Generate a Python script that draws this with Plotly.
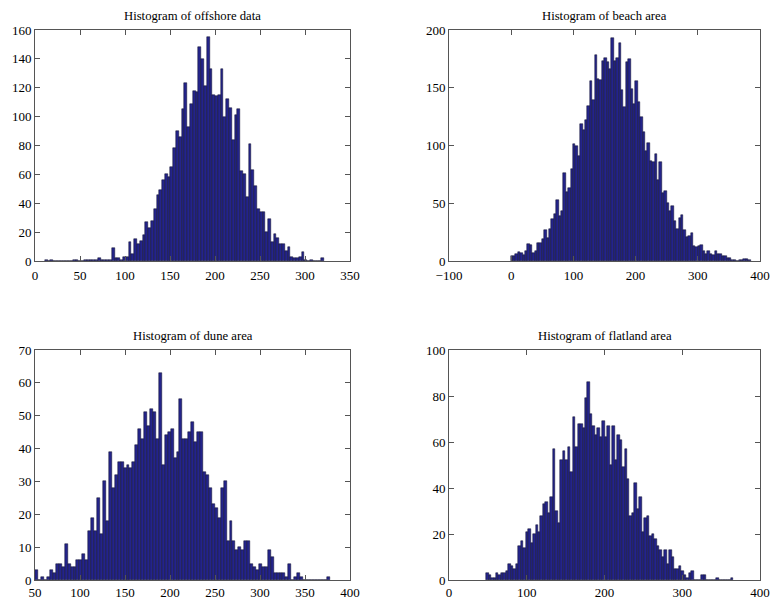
import numpy as np
import plotly.graph_objects as go

# ---- histogram data: 100 equal-width bins per panel ----
offshore_range = (11.0, 321.0)
offshore_counts = [
    1, 0, 1, 0, 0, 0, 0, 0, 0, 0,
    1, 1, 0, 0, 1, 1, 1, 1, 1, 2,
    1, 1, 1, 1, 9, 2, 2, 1, 3, 3,
    13, 5, 15, 12, 14, 18, 27, 23, 28, 36,
    46, 49, 56, 60, 58, 65, 78, 90, 86, 105,
    123, 93, 109, 118, 117, 148, 140, 121, 155, 133,
    115, 114, 115, 133, 100, 112, 106, 84, 101, 105,
    62, 60, 44, 81, 63, 52, 36, 34, 34, 20,
    29, 13, 19, 16, 12, 12, 7, 10, 3, 2,
    2, 3, 6, 1, 0, 1, 0, 0, 0, 2,
]

beach_range = (-1.0, 385.0)
beach_counts = [
    4, 4, 6, 8, 7, 5, 9, 15, 14, 7,
    9, 16, 16, 19, 27, 20, 28, 36, 41, 53,
    39, 43, 76, 60, 63, 80, 101, 100, 91, 119,
    113, 122, 134, 156, 139, 178, 158, 157, 173, 176,
    172, 166, 193, 173, 176, 189, 148, 133, 172, 175,
    149, 136, 156, 138, 125, 112, 95, 102, 87, 86,
    93, 70, 86, 59, 61, 50, 43, 48, 35, 28,
    37, 40, 27, 21, 22, 24, 13, 12, 13, 14,
    9, 6, 9, 6, 5, 9, 6, 6, 4, 4,
    3, 3, 1, 1, 0, 1, 1, 2, 2, 1,
]

dune_range = (50.3, 377.3)
dune_counts = [
    3, 0, 1, 0, 1, 3, 2, 5, 5, 4,
    11, 5, 4, 4, 6, 6, 8, 6, 15, 19,
    15, 25, 14, 30, 18, 39, 28, 32, 36, 36,
    34, 35, 34, 36, 41, 46, 43, 51, 47, 52,
    51, 43, 63, 35, 44, 45, 46, 37, 39, 55,
    43, 43, 45, 48, 42, 45, 45, 33, 32, 28,
    23, 22, 19, 28, 30, 12, 18, 12, 9, 10,
    9, 12, 12, 5, 4, 3, 5, 4, 4, 9,
    7, 2, 2, 2, 2, 1, 5, 0, 1, 2,
    1, 0, 0, 0, 0, 0, 0, 0, 0, 1,
]

flatland_range = (47.7, 365.7)
flatland_counts = [
    3, 2, 1, 1, 3, 2, 3, 3, 4, 7,
    6, 5, 7, 15, 17, 14, 21, 22, 16, 20,
    24, 21, 28, 33, 34, 29, 36, 57, 30, 25,
    52, 56, 52, 58, 47, 71, 58, 68, 68, 66,
    79, 86, 72, 67, 63, 66, 62, 69, 62, 67,
    50, 67, 52, 63, 61, 49, 57, 44, 28, 29,
    42, 31, 36, 21, 27, 28, 19, 20, 18, 15,
    13, 10, 13, 7, 13, 10, 5, 5, 6, 4,
    2, 1, 3, 4, 0, 0, 0, 2, 2, 0,
    0, 0, 0, 1, 0, 0, 0, 0, 0, 1,
]

titles = [
    "Histogram of offshore data",
    "Histogram of beach area",
    "Histogram of dune area",
    "Histogram of flatland area",
]
x_ranges = [(0, 350), (-100, 400), (50, 400), (0, 400)]
x_dticks = [50, 100, 50, 100]
y_ranges = [(0, 160), (0, 200), (0, 70), (0, 100)]
y_dticks = [20, 50, 10, 20]

panels = [
    (offshore_range, offshore_counts),
    (beach_range, beach_counts),
    (dune_range, dune_counts),
    (flatland_range, flatland_counts),
]

W, H = 771, 601
# axes boxes in pixels: (left, right, top, bottom)
boxes = [
    (35, 350, 30, 261),
    (449, 760, 30, 261),
    (35, 350, 350, 580),
    (449, 760, 350, 580),
]

FONT = "Liberation Serif, Times New Roman, serif"
BAR_FILL = "#24248a"
BAR_EDGE = "#0d0d2a"
AX_COLOR = "#555555"

fig = go.Figure()
layout = dict(
    width=W, height=H,
    margin=dict(l=0, r=0, t=0, b=0, autoexpand=False),
    paper_bgcolor="white", plot_bgcolor="white",
    showlegend=False, bargap=0,
    font=dict(family=FONT, size=13, color="black"),
)
annotations = []

for k, ((lo, hi), counts) in enumerate(panels):
    n = len(counts)
    width = (hi - lo) / n
    edges = np.linspace(lo, hi, n + 1)
    centers = (edges[:-1] + edges[1:]) / 2
    sfx = "" if k == 0 else str(k + 1)
    fig.add_trace(go.Bar(
        x=centers, y=counts, width=width,
        marker=dict(color=BAR_FILL, line=dict(color=BAR_EDGE, width=0.5)),
        xaxis="x" + sfx, yaxis="y" + sfx,
        hoverinfo="x+y",
    ))
    l, r, t, b = boxes[k]
    xdom = [l / W, r / W]
    ydom = [1 - b / H, 1 - t / H]
    common = dict(
        showgrid=False, zeroline=False, showline=True, linecolor=AX_COLOR,
        linewidth=1, mirror="allticks", ticks="inside", ticklen=5,
        tickcolor=AX_COLOR, automargin=False, ticklabeloverflow="allow",
        tickfont=dict(family=FONT, size=13, color="black"),
    )
    layout["xaxis" + sfx] = dict(
        domain=xdom, range=list(x_ranges[k]), tick0=x_ranges[k][0],
        dtick=x_dticks[k], anchor="y" + sfx,
        ticklabelstandoff=2 if k < 2 else 0, **common,
    )
    layout["yaxis" + sfx] = dict(
        domain=ydom, range=list(y_ranges[k]), tick0=0,
        dtick=y_dticks[k], anchor="x" + sfx, **common,
    )
    annotations.append(dict(
        text=titles[k], x=(l + r) / 2 / W, y=1 - t / H,
        xref="paper", yref="paper", xanchor="center", yanchor="bottom",
        yshift=5, showarrow=False,
        font=dict(family=FONT, size=12.7, color="black"),
    ))

layout["annotations"] = annotations
fig.update_layout(**layout)
fig.write_html("out.html")
